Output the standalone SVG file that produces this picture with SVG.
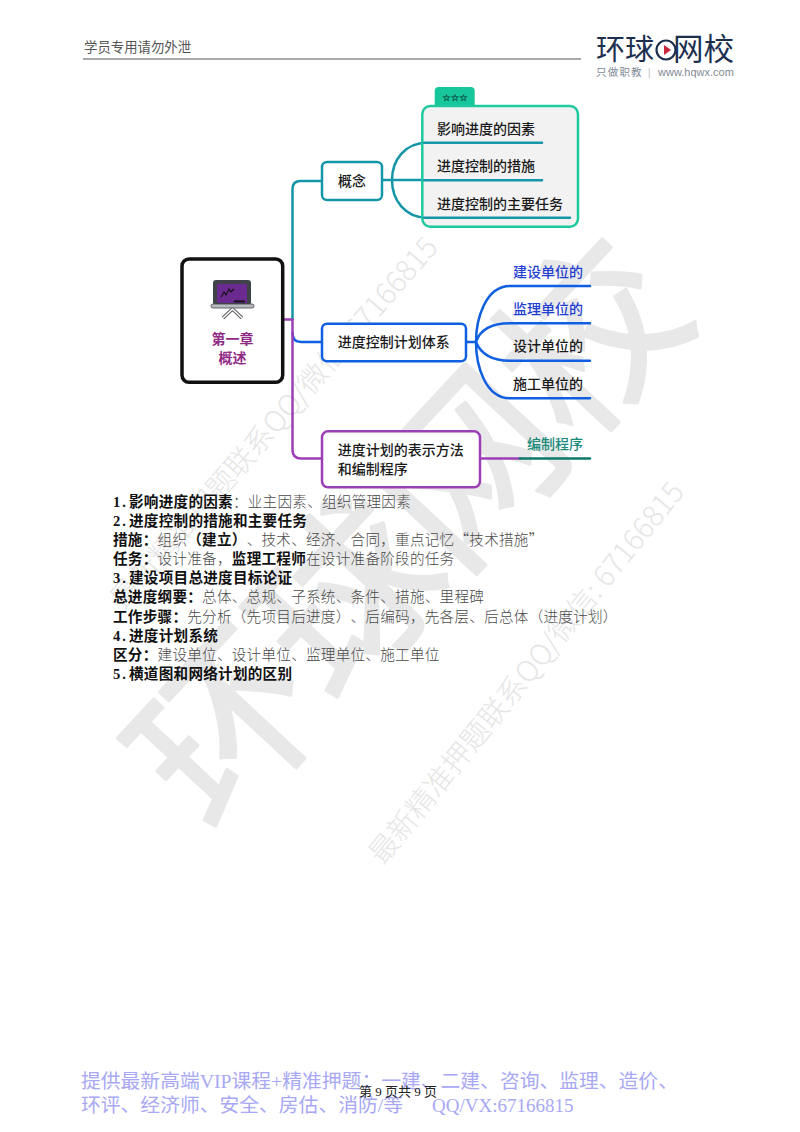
<svg xmlns="http://www.w3.org/2000/svg" width="800" height="1132" viewBox="0 0 800 1132">
<style>
text{font-family:"Noto Sans CJK SC",sans-serif;text-spacing-trim:space-all}
.wm{font-size:178px;font-weight:400;fill:#e8e8e8;stroke:#e8e8e8;stroke-width:3;stroke-linejoin:round}
.wt{font-size:29px;fill:#e6e6e6;font-weight:300}
.n{fill:#fff;stroke-width:2.5}
.l{font-size:14px;font-weight:500;fill:#1a1a1a;dominant-baseline:central}
.c{fill:none;stroke-width:2.5;stroke-linecap:round}
.teal{stroke:#1496a8}.blue{stroke:#0f5fe0}.pur{stroke:#9b3fb5}
.t{font-family:"Liberation Serif","Noto Sans CJK SC",serif;font-size:14.6px;letter-spacing:.25px;fill:#4a4a4a;font-weight:300}
.t .b{font-weight:700;fill:#111}
.t .d{font-weight:700;fill:#111;letter-spacing:2px}
.q{font-family:"Noto Sans CJK SC",sans-serif}
.f{font-family:"Liberation Serif","Noto Sans CJK SC",serif;font-size:19.800px;fill:#a8a8f5}
</style>
<rect width="800" height="1132" fill="#fff"/>
<g id="watermark">
<text class="wm" transform="translate(213 837) rotate(-47)">环球网校</text>
<text class="wt" transform="translate(383 866) rotate(-51)">最新精准押题联系QQ/微信: 67166815</text>
<text class="wt" transform="translate(124 611) rotate(-49)">最新精准押题联系QQ/微信: 67166815</text>
</g>
<g id="header">
<text x="84" y="52" font-size="13.4" fill="#555" style="font-family:'Noto Sans CJK SC',sans-serif">学员专用请勿外泄</text>
<line x1="83" y1="59" x2="581" y2="59" stroke="#555" stroke-width="1.2"/>
</g>
<g id="logo">
<text x="596" y="60" font-size="29" fill="#1c2f4f">环球</text>
<circle cx="666" cy="50" r="9.5" fill="none" stroke="#1c2f4f" stroke-width="2.2"/>
<polygon points="664,45 664,55 671,50" fill="#c8263b"/>
<text x="673" y="60" font-size="30.500" fill="#1c2f4f">网校</text>
<text x="596" y="76" font-size="10.5" letter-spacing="1.2" fill="#7f8a96">只做职教</text>
<text x="648" y="76" font-size="9" fill="#9aa3ad">|</text>
<text x="658" y="76" font-size="11" fill="#7f8a96" style="font-family:'Liberation Sans',sans-serif">www.hqwx.com</text>
</g>
<g id="connectors">
<path class="c teal" d="M292.5 319V189Q292.5 181 300.500 181H322"/>
<path class="c teal" d="M382 180H392M392 180C392 160 405 142.700 427 142.700H542M392 180H542M392 180C392 200 405 217.700 427 217.700H570"/>
<path class="c blue" d="M292.500 333Q292.500 342 301 342H322"/>
<path class="c blue" d="M466 342H476M476 342C476 320 485 286 510 286H590M476 342C480 330 490 323.300 510 323.300H590M476 342C480 352 490 360.700 510 360.700H590M476 342C476 365 485 398.300 510 398.300H590"/>
<path class="c pur" d="M282 319.500H292.500V450Q292.500 458.500 301 458.500H322"/>
<path class="c pur" d="M480 458.500H520"/>
<path class="c" stroke="#0e7a6a" d="M520 458.500H590"/>
</g>
<g id="group-box">
<rect x="434.700" y="87" width="40" height="24" rx="4" fill="#17c79b"/>
<rect x="422.300" y="106" width="155.700" height="120.700" rx="8" fill="#f2f2f2" stroke="#1fc9a0" stroke-width="2.500"/>
<text x="455" y="100.500" text-anchor="middle" font-size="9.500" stroke="#0c4f44" stroke-width=".3" style="font-family:'DejaVu Sans',sans-serif" fill="#0c4f44">☆☆☆</text>
<path class="c teal" d="M424 142.700H542M424 180.200H542M424 217.700H570"/>
</g>
<g id="node-root">
<rect x="182" y="259" width="100.700" height="123.300" rx="7" fill="#fff" stroke="#111" stroke-width="3.500"/>
<rect x="213" y="280" width="38" height="25" rx="3" fill="#3f4349"/>
<rect x="217" y="284" width="30" height="19" fill="#6b2a8f"/>
<path d="M221 297l3-5 2 3 3-6 2 3 3-3" fill="none" stroke="#111" stroke-width="1.100"/>
<rect x="234" y="300.500" width="11" height="1.800" fill="#111"/>
<rect x="211" y="304" width="43" height="4" rx="2" fill="#b8bcc2" stroke="#444" stroke-width="0.800"/>
<path d="M232.500 309L223 318M232.500 309L242 318" stroke="#555" stroke-width="3.400" fill="none"/>
<path d="M232.500 309L223 318M232.500 309L242 318" stroke="#fff" stroke-width="1.600" fill="none"/>
<text x="232.500" y="338" text-anchor="middle" font-size="14" font-weight="700" fill="#8e2a84" dominant-baseline="central">第一章</text>
<text x="232.500" y="357" text-anchor="middle" font-size="14" font-weight="700" fill="#8e2a84" dominant-baseline="central">概述</text>
</g>
<g id="node-gainian">
<rect class="n teal" x="322" y="162" width="60" height="38" rx="5"/>
<text class="l" x="338" y="179.500">概念</text>
</g>
<g id="node-tixi">
<rect class="n blue" x="322" y="323.700" width="144" height="37.600" rx="5"/>
<text class="l" x="337.700" y="341">进度控制计划体系</text>
</g>
<g id="node-fangfa">
<rect class="n pur" x="322" y="431.300" width="158" height="56" rx="6"/>
<text class="l" x="337.700" y="449">进度计划的表示方法</text>
<text class="l" x="337.700" y="467.500">和编制程序</text>
</g>
<g id="labels">
<text class="l" x="437" y="127.500">影响进度的因素</text>
<text class="l" x="437" y="165">进度控制的措施</text>
<text class="l" x="437" y="202.500">进度控制的主要任务</text>
<text class="l" x="513" y="270.700" style="fill:#1f3fd0">建设单位的</text>
<text class="l" x="513" y="308" style="fill:#1f3fd0">监理单位的</text>
<text class="l" x="513" y="345">设计单位的</text>
<text class="l" x="513" y="382.500">施工单位的</text>
<text class="l" x="527" y="442.500" style="fill:#1a8a7a">编制程序</text>
</g>
<g id="notes">
<text class="t" y="507"><tspan class="d" x="113">1.</tspan><tspan class="b" x="129">影响进度的因素</tspan>：业主因素、组织管理因素</text>
<text class="t" y="526"><tspan class="d" x="113">2.</tspan><tspan class="b" x="129">进度控制的措施和主要任务</tspan></text>
<text class="t" y="545"><tspan class="b" x="113">措施：</tspan>组织<tspan class="b">（建立）</tspan>、技术、经济、合同，重点记忆<tspan class="q">“技术措施”</tspan></text>
<text class="t" y="564"><tspan class="b" x="113">任务：</tspan>设计准备，<tspan class="b">监理工程师</tspan>在设计准备阶段的任务</text>
<text class="t" y="583"><tspan class="d" x="113">3.</tspan><tspan class="b" x="129">建设项目总进度目标论证</tspan></text>
<text class="t" y="602"><tspan class="b" x="113">总进度纲要：</tspan>总体、总规、子系统、条件、措施、里程碑</text>
<text class="t" y="622"><tspan class="b" x="113">工作步骤：</tspan>先分析（先项目后进度）、后编码，先各层、后总体（进度计划）</text>
<text class="t" y="641"><tspan class="d" x="113">4.</tspan><tspan class="b" x="129">进度计划系统</tspan></text>
<text class="t" y="660"><tspan class="b" x="113">区分：</tspan>建设单位、设计单位、监理单位、施工单位</text>
<text class="t" y="679"><tspan class="d" x="113">5.</tspan><tspan class="b" x="129">横道图和网络计划的区别</tspan></text>
</g>
<g id="footer">
<text class="f" x="81" y="1088">提供最新高端VIP课程+精准押题：一建、二建、咨询、监理、造价、</text>
<text class="f" x="81" y="1112">环评、经济师、安全、房估、消防/等<tspan x="432" font-size="19">QQ/VX:67166815</tspan></text>
<text x="398" y="1096" text-anchor="middle" font-size="13" fill="#222" style="font-family:'Liberation Serif','Noto Sans CJK SC',serif">第 9 页共 9 页</text>
</g>
</svg>
